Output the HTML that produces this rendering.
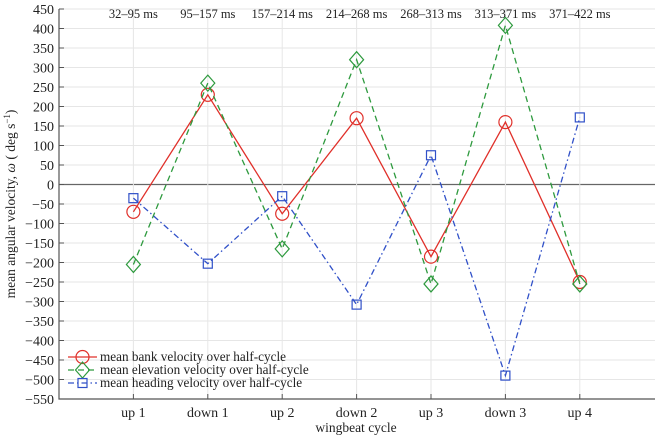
<!DOCTYPE html>
<html><head><meta charset="utf-8"><style>
body{margin:0;background:#fff;}
svg text{font-family:"Liberation Serif",serif;fill:#222;}
</style></head><body>
<svg id="chart" width="658" height="436" viewBox="0 0 658 436" xmlns="http://www.w3.org/2000/svg"></svg>
<script>
const categories=["up 1","down 1","up 2","down 2","up 3","down 3","up 4"];
const timeLabels=["32–95 ms","95–157 ms","157–214 ms","214–268 ms","268–313 ms","313–371 ms","371–422 ms"];
const bankValues=[-70,230,-75,170,-185,160,-250];
const elevationValues=[-205,260,-165,320,-255,408,-255];
const headingValues=[-35,-203,-30,-308,75,-490,172];
const yTicks=[450,400,350,300,250,200,150,100,50,0,-50,-100,-150,-200,-250,-300,-350,-400,-450,-500,-550];

const svg=document.getElementById('chart');
const NS="http://www.w3.org/2000/svg";
const L=59,R=655,T=9,B=399;
const y=v=>T+(450-v)*(B-T)/1000;
const x=i=>L+(i+1)*74.4;
function mk(tag,attrs,parent){const e=document.createElementNS(NS,tag);for(const k in attrs)e.setAttribute(k,attrs[k]);(parent||svg).appendChild(e);return e;}

yTicks.forEach(t=>{
  const g=mk('line',{x1:L,x2:R,y1:y(t),y2:y(t),stroke:t===0?'#666':'#e6e6e6','stroke-width':t===0?1.2:1});
  
  
  const tk=mk('line',{x1:L,x2:L+5,y1:y(t),y2:y(t),stroke:'#555'});
  
  
  const lb=mk('text',{x:L-5,y:y(t)+5,'text-anchor':'end','font-size':14});
  lb.textContent=t<0?'−'+(-t):String(t);
  
  
});
categories.forEach((c,i)=>{
  const g=mk('line',{x1:x(i),x2:x(i),y1:T,y2:B,stroke:'#e6e6e6'});
  
  
  const tk=mk('line',{x1:x(i),x2:x(i),y1:B,y2:B-5,stroke:'#555'});
  
  
  const lb=mk('text',{x:x(i),y:B+18,'text-anchor':'middle','font-size':14});
  lb.textContent=c;
  
  
  const tl=mk('text',{x:x(i),y:18,'text-anchor':'middle','font-size':12.5});
  tl.textContent=timeLabels[i];
  
  
});
const ax=mk('path',{d:`M${L},${T} V${B} H${R}`,fill:'none',stroke:'#555','stroke-width':1.2});



function marker(type,cx,cy,color,parent){
  if(type==='circle')return mk('circle',{cx,cy,r:6.5,fill:'none',stroke:color,'stroke-width':1.2},parent);
  if(type==='diamond')return mk('path',{d:`M${cx},${cy-8} L${cx+7},${cy} L${cx},${cy+8} L${cx-7},${cy} Z`,fill:'none',stroke:color,'stroke-width':1.2},parent);
  return mk('rect',{x:cx-4.5,y:cy-4.5,width:9,height:9,fill:'none',stroke:color,'stroke-width':1.2},parent);
}
const series=[
  {name:'bank',vals:bankValues,color:'#e0302a',dash:'',m:'circle',label:'mean bank velocity over half-cycle'},
  {name:'elevation',vals:elevationValues,color:'#2e9a3e',dash:'6,4',m:'diamond',label:'mean elevation velocity over half-cycle'},
  {name:'heading',vals:headingValues,color:'#3050c8',dash:'6,3,1.5,3',m:'square',label:'mean heading velocity over half-cycle'}
];
series.forEach(s=>{
  const g=mk('g',{});
  
  
  const pl=mk('polyline',{points:s.vals.map((v,i)=>x(i)+','+y(v)).join(' '),fill:'none',stroke:s.color,'stroke-width':1.3,'stroke-dasharray':s.dash},g);
  
  
  s.vals.forEach((v,i)=>{
    const m=marker(s.m,x(i),y(v),s.color,g);
    
    
  });
});
series.forEach((s,k)=>{
  const g=mk('g',{});
  
  
  const ly=357+k*13;
  mk('line',{x1:68,x2:97,y1:ly,y2:ly,stroke:s.color,'stroke-width':1.3,'stroke-dasharray':s.dash},g);
  marker(s.m,82.5,ly,s.color,g);
  const t=mk('text',{x:100,y:ly+4,'font-size':13.2},g);
  t.textContent=s.label;
});
const xt=mk('text',{x:356,y:432,'text-anchor':'middle','font-size':13.5});
xt.textContent='wingbeat cycle';


const yt=mk('text',{x:0,y:0,'text-anchor':'middle','font-size':13.5,transform:'translate(15,204) rotate(-90)'});
yt.innerHTML='mean angular velocity, <tspan font-style="italic">ω</tspan> ( deg s<tspan dy="-5" font-size="9">−1</tspan><tspan dy="5">)</tspan>';


</script>
</body></html>
